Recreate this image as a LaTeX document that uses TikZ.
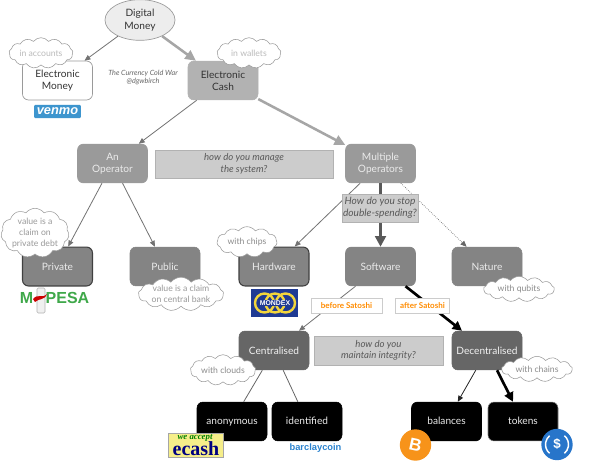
\documentclass[tikz,border=0pt]{standalone}
\usepackage{fontspec}
\setmainfont{Lato}
\newfontfamily\logofont{Liberation Sans}
\newfontfamily\seriffont{Liberation Serif}
\usetikzlibrary{shapes.geometric,shapes.symbols,arrows.meta}
\definecolor{gmid}{HTML}{9A9A9A}
\definecolor{gdark}{HTML}{848484}
\definecolor{gdarker}{HTML}{666666}
\definecolor{glight}{HTML}{B2B2B2}
\definecolor{qfill}{HTML}{CCCCCC}
\definecolor{cloudtxt}{HTML}{8C8C8C}
\definecolor{cloudpale}{HTML}{BBBBBB}
\definecolor{mpgreen}{HTML}{3FA84A}
\definecolor{venmoblue}{HTML}{3D95CE}
\definecolor{btcorange}{HTML}{F7931A}
\definecolor{usdcblue}{HTML}{2775CA}
\definecolor{bcblue}{HTML}{2B83CF}
\definecolor{mondexblue}{HTML}{1F3A93}
\definecolor{mondexyellow}{HTML}{F2D53C}
\definecolor{ecashyellow}{HTML}{F6EE8A}
\tikzset{
  base/.style={rounded corners=4.5pt,minimum width=52.5pt,minimum height=29.2pt,inner sep=0pt,align=center,font=\fontsize{7.6}{9.2}\selectfont},
  whitebox/.style={base,draw=gmid,line width=.5pt,fill=white,text=black!80},
  cashbox/.style={base,fill=glight,draw=glight,text=black!80},
  opbox/.style={base,fill=gmid,draw=gmid,text=white!92!black},
  midbox/.style={base,fill=gdark,draw=gdark,text=white!92!black},
  strongbox/.style={base,fill=gdark,draw=black!75,line width=.8pt,text=white!92!black},
  darkbox/.style={base,fill=gdarker,draw=gdarker,text=white!95!black},
  blackbox/.style={base,fill=black,draw=black,text=white!92!black},
  cloudy/.style={cloud,cloud puffs=13,cloud puff arc=105,cloud ignores aspect,draw=gmid,line width=.4pt,fill=white,inner sep=0pt,align=center,text=cloudtxt,font=\fontsize{6.5}{8.2}\selectfont},
  question/.style={fill=qfill,draw=glight,line width=.5pt,inner sep=0pt,align=center,text=black!65,font=\itshape\fontsize{7.2}{8.6}\selectfont},
  orangetag/.style={fill=white,draw=black!20,line width=.4pt,inner sep=0pt,text=orange!90!yellow,font=\bfseries\fontsize{6}{7}\selectfont},
  thinedge/.style={draw=black!55,line width=.6pt,-{Triangle[length=4.5pt,width=3.8pt]}},
  plainedge/.style={draw=black!60,line width=.6pt},
  dotedge/.style={draw=black!60,line width=.5pt,densely dotted,-{Triangle[length=4.5pt,width=3.8pt]}},
  greyedge/.style={draw=black!35,line width=1.9pt,-{Triangle[length=8pt,width=7.5pt]}},
  heavyedge/.style={draw=black!65,line width=2pt,-{Triangle[length=8pt,width=8pt]}},
  blackedge/.style={draw=black,line width=2pt,-{Triangle[length=7pt,width=7pt]}},
}
\begin{document}
\begin{tikzpicture}[x=.75pt,y=-.75pt]
\useasboundingbox (0,0) rectangle (599,462);
\fill[white] (0,0) rectangle (599,462);
% nodes
\node[ellipse,draw=gmid,line width=.5pt,fill=black!7,minimum width=52.5pt,minimum height=30.5pt,inner sep=0pt,align=center,text=black!80,font=\fontsize{7.6}{9.2}\selectfont] (dm) at (140,20) {Digital\\Money};
\node[whitebox] (em) at (57.5,80.5) {Electronic\\Money};
\node[cashbox] (ec) at (223,80.5) {Electronic\\Cash};
\node[opbox] (an) at (112.5,163.5) {An\\Operator};
\node[opbox] (mo) at (380.5,163.5) {Multiple\\Operators};
\node[strongbox] (pr) at (57.5,266.5) {Private};
\node[midbox] (pu) at (165,266.5) {Public};
\node[strongbox] (hw) at (274,266.5) {Hardware};
\node[midbox] (sw) at (380.5,266.5) {Software};
\node[midbox] (na) at (487,266.5) {Nature};
\node[darkbox] (ce) at (274,350.5) {Centralised};
\node[darkbox] (de) at (487,350.5) {Decentralised};
\node[blackbox] (ano) at (232,421.5) {\vphantom{d}anonymous};
\node[blackbox] (ide) at (307,421.5) {\vphantom{y}identified};
\node[blackbox] (bal) at (446.5,421.5) {\vphantom{y}balances};
\node[blackbox,draw=black!50] (tok) at (523,421.5) {\vphantom{y}tokens};
% connectors
\draw[thinedge] (dm) -- (em);
\draw[greyedge] (dm) -- (ec);
\draw[thinedge] (ec) -- (an);
\draw[greyedge] (ec) -- (mo);
\draw[thinedge] (an) -- (pr);
\draw[thinedge] (an) -- (pu);
\draw[thinedge] (mo) -- (hw);
\draw[heavyedge] (mo) -- (sw);
\draw[dotedge] (mo) -- (na);
\draw[thinedge] (sw) -- (ce);
\draw[blackedge] (sw) -- (de);
\draw[plainedge] (ce) -- (ano);
\draw[plainedge] (ce) -- (ide);
\draw[thinedge,draw=black!85] (de) -- (bal);
\draw[blackedge] (de) -- (tok);
% questions and tags
\node[question,minimum width=133.5pt,minimum height=21pt] (q1) at (244,164) {how do you manage\\the system?};
\node[question,minimum width=57pt,minimum height=21pt,font=\itshape\fontsize{7.6}{8.8}\selectfont] (q2) at (380,208) {How do you stop\\double-spending?};
\node[question,minimum width=97pt,minimum height=21.5pt] (q3) at (378.5,350.5) {how do you\\maintain integrity?};
\node[orangetag,minimum width=53pt,minimum height=11.2pt] (t1) at (346.5,305.5) {before Satoshi};
\node[orangetag,minimum width=40.5pt,minimum height=11.2pt] (t2) at (422.5,305.5) {after Satoshi};
% clouds
\node[cloudy,text=cloudpale,minimum width=48pt,minimum height=23pt] (c1) at (41,53) {in accounts};
\node[cloudy,text=cloudpale,minimum width=48pt,minimum height=23pt] (c2) at (249,53) {in wallets};
\node[cloudy,cloud puffs=11,text=black!40,minimum width=47pt,minimum height=31pt] (c3) at (35,233) {value is a\\claim on\\private debt};
\node[cloudy,text=black!40,minimum width=64pt,minimum height=22pt] (c4) at (181,294) {value is a claim\\on central bank};
\node[cloudy,cloud puffs=11,minimum width=45pt,minimum height=23pt] (c5) at (247,242) {with chips};
\node[cloudy,minimum width=53pt,minimum height=19pt] (c6) at (519,289) {with qubits};
\node[cloudy,minimum width=49pt,minimum height=23pt] (c7) at (223,370) {with clouds};
\node[cloudy,minimum width=53pt,minimum height=19pt] (c8) at (537,369) {with chains};
% caption
\node[inner sep=0pt,align=center,text=black!60,font=\itshape\fontsize{5.4}{6.4}\selectfont] (cap) at (143,77.5) {The Currency Cold War\\@dgwbirch};
% venmo
\node[fill=venmoblue,rounded corners=.8pt,minimum width=35pt,minimum height=10pt,inner sep=0pt,text=white,font=\logofont\bfseries\itshape\fontsize{9.6}{10}\selectfont] (venmo) at (57.5,111.5) {venmo};
% m-pesa
\draw[black!30,fill=black!6,rounded corners=1pt,line width=.4pt] (37,288) rectangle (45,313);
\node[inner sep=0pt,text=mpgreen,font=\logofont\bfseries\fontsize{12}{12}\selectfont] (mpm) at (26.5,298) {M};
\node[inner sep=0pt,text=mpgreen,font=\logofont\bfseries\fontsize{12}{12}\selectfont] (mpesa) at (67.5,298) {PESA};
\fill[red!80!black] (33,299) .. controls (38,293) and (42,299) .. (47,294) .. controls (44,301) and (39,298) .. (35,302) -- cycle;
% mondex
\fill[mondexblue] (251,289) rectangle (298,317);
\foreach \cx in {264.5,275,285.5}
  \draw[mondexyellow,line width=1.8pt] (\cx,303) circle (9.5);
\node[inner sep=.4pt,fill=mondexblue,text=white,font=\logofont\bfseries\fontsize{5.2}{5.5}\selectfont] (mondex) at (275,303) {MONDEX};
% ecash
\node[draw=black!35,fill=ecashyellow,line width=.4pt,minimum width=41pt,minimum height=18pt,inner sep=0pt] (eb) at (195.5,445) {};
\node[inner sep=0pt,text=green!50!black,font=\seriffont\bfseries\itshape\fontsize{6.6}{7}\selectfont] (ea) at (195,437.5) {we accept};
\node[inner sep=0pt,text=blue!50!black,font=\seriffont\bfseries\fontsize{15}{15}\selectfont] (ee) at (196,449) {ecash};
% barclaycoin
\node[inner sep=0pt,text=bcblue,font=\logofont\bfseries\fontsize{7}{8}\selectfont] (bc) at (315.5,448.5) {barclaycoin};
% bitcoin
\node[circle,fill=btcorange,minimum size=23.5pt,inner sep=0pt,text=white,font=\logofont\bfseries\fontsize{13}{13}\selectfont] (btc) at (415.5,445) {\rotatebox{-12}{B}};
% usdc
\node[circle,fill=usdcblue,minimum size=23.5pt,inner sep=0pt,text=white,font=\logofont\bfseries\fontsize{10}{10}\selectfont] (usdc) at (557,444.5) {\$};
\draw[white,line width=1.1pt] (usdc.center) ++(-50:11.5) arc (-50:50:11.5);
\draw[white,line width=1.1pt] (usdc.center) ++(130:11.5) arc (130:230:11.5);
\end{tikzpicture}
\end{document}
